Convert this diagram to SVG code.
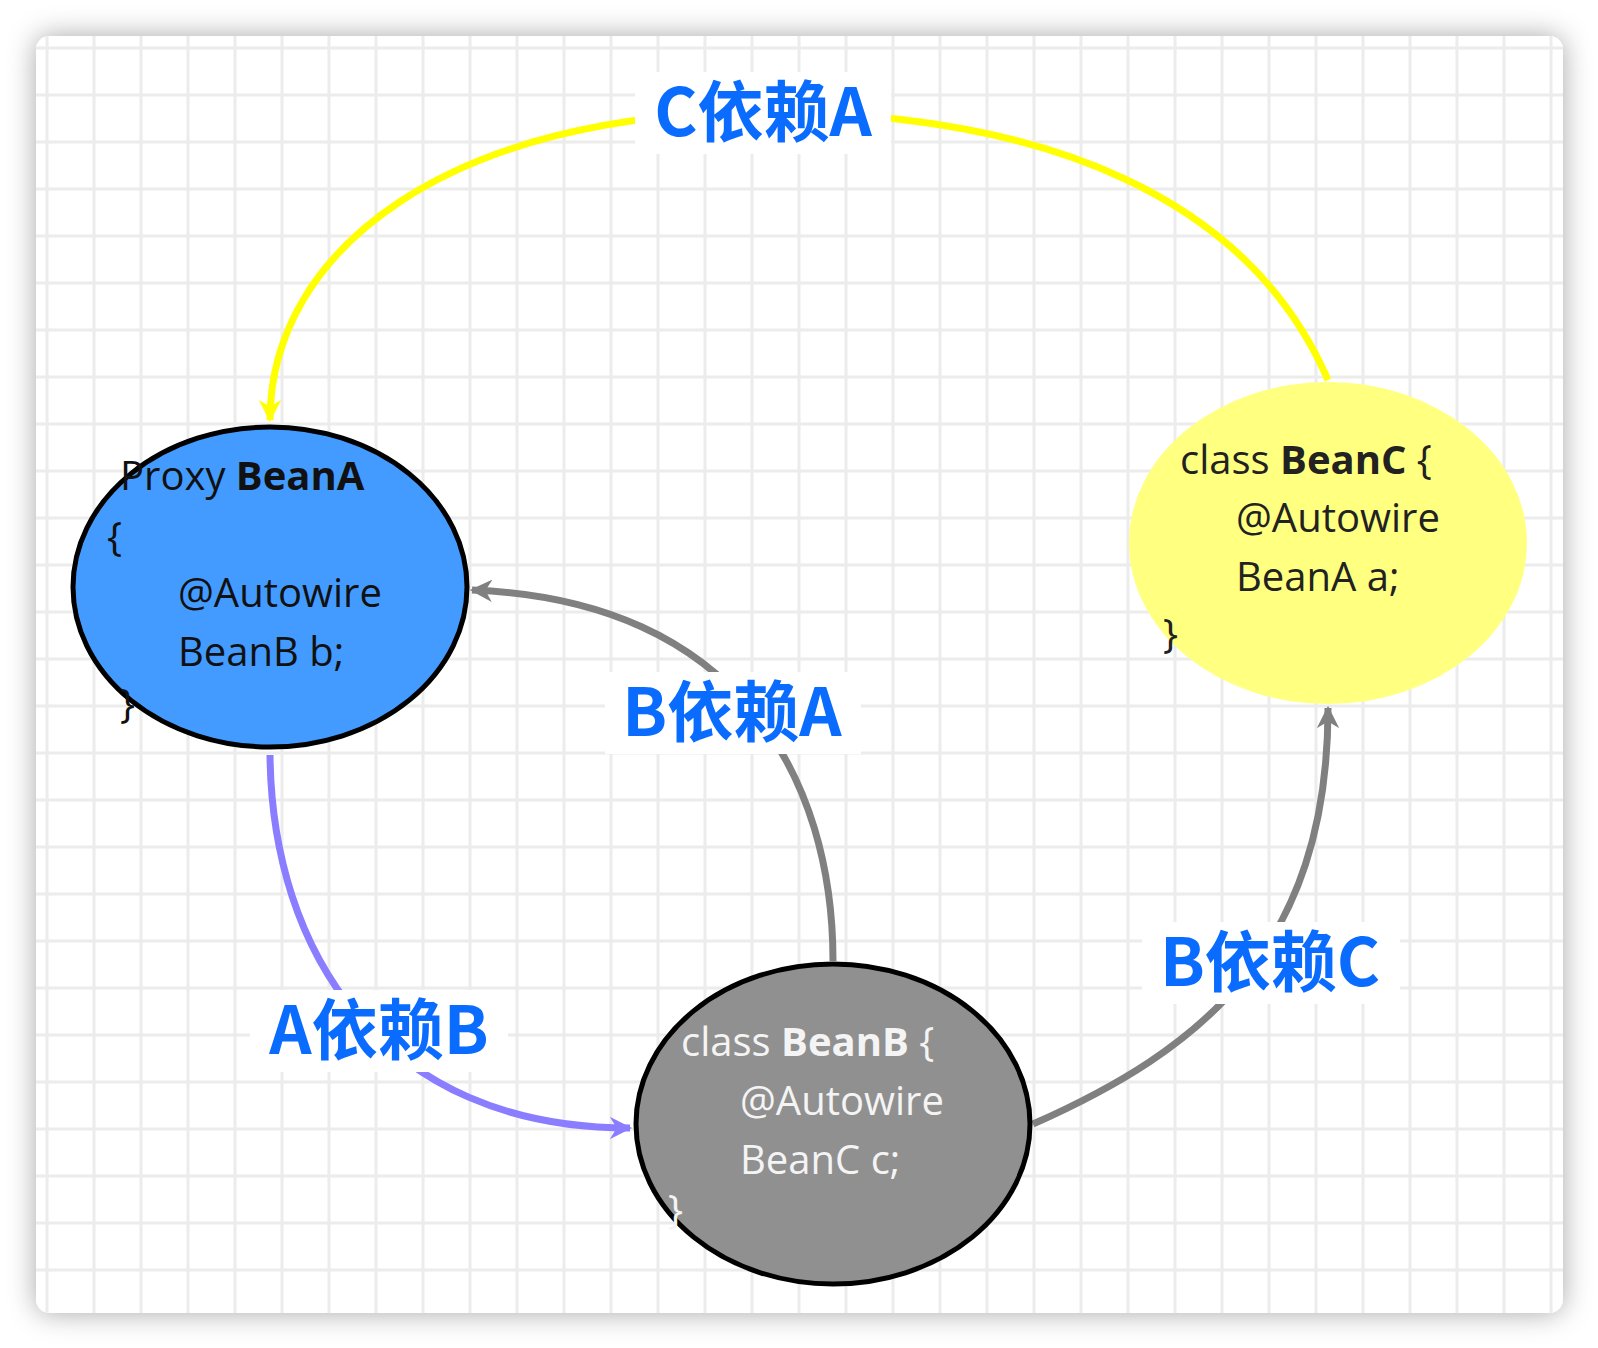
<svg xmlns="http://www.w3.org/2000/svg" width="1598" height="1348" viewBox="0 0 1598 1348">
<defs>
<pattern id="g" x="36" y="36" width="47" height="47" patternUnits="userSpaceOnUse">
<path d="M11,0V47M0,12H47" stroke="#ececec" stroke-width="3" fill="none"/>
</pattern>
<filter id="sh" x="-5%" y="-5%" width="110%" height="110%"><feDropShadow dx="0" dy="0" stdDeviation="14" flood-color="#000" flood-opacity="0.35"/></filter>
<marker id="ay" viewBox="0 0 10 10" refX="9" refY="5" markerWidth="3.2" markerHeight="3.2" orient="auto" markerUnits="strokeWidth"><path d="M0,0L10,5L0,10L3,5z" fill="#ffff00"/></marker>
<marker id="ag" viewBox="0 0 10 10" refX="9" refY="5" markerWidth="3.2" markerHeight="3.2" orient="auto" markerUnits="strokeWidth"><path d="M0,0L10,5L0,10L3,5z" fill="#808080"/></marker>
<marker id="ap" viewBox="0 0 10 10" refX="9" refY="5" markerWidth="3.2" markerHeight="3.2" orient="auto" markerUnits="strokeWidth"><path d="M0,0L10,5L0,10L3,5z" fill="#8a7dff"/></marker>
</defs>
<style>
.t{font-family:"Open Sans","Noto Sans",sans-serif;font-size:40px}
.b{font-weight:bold}
.lbl{font-family:"Noto Sans CJK SC","Noto Sans",sans-serif;font-size:66px;font-weight:bold;fill:#0a6cff;text-anchor:middle}
.e{fill:none;stroke-width:7}
</style>
<rect width="1598" height="1348" fill="#fff"/>
<rect x="36" y="36" width="1527" height="1277" rx="14" fill="#fff" filter="url(#sh)"/>
<rect x="36" y="36" width="1527" height="1277" rx="14" fill="url(#g)"/>
<g id="connectors">
<path class="e" stroke="#ffff00" d="M1328,380 C1250,200 1050,112 763,112 C450,112 270,250 270,420" marker-end="url(#ay)"/>
<path class="e" stroke="#808080" d="M833,961 C833,780 740,600 472,590" marker-end="url(#ag)"/>
<path class="e" stroke="#808080" d="M1033,1124 C1200,1050 1328,950 1328,708" marker-end="url(#ag)"/>
<path class="e" stroke="#8a7dff" d="M270,755 C272,950 380,1128 630,1128" marker-end="url(#ap)"/>
<rect x="635" y="72" width="256" height="82" fill="#fff"/>
<rect x="605" y="672" width="256" height="82" fill="#fff"/>
<rect x="250" y="990" width="258" height="82" fill="#fff"/>
<rect x="1142" y="922" width="258" height="82" fill="#fff"/>
<text class="lbl" x="763" y="136">C依赖A</text>
<text class="lbl" x="732" y="736">B依赖A</text>
<text class="lbl" x="379" y="1054">A依赖B</text>
<text class="lbl" x="1270" y="986">B依赖C</text>
</g>
<g id="nodeA">
<ellipse cx="270" cy="587" rx="197" ry="160" fill="#439bff" stroke="#000" stroke-width="5"/>
<text class="t" fill="#111" x="120" y="490">Proxy <tspan class="b">BeanA</tspan></text>
<text class="t" fill="#111" x="107" y="551">{</text>
<text class="t" fill="#111" x="178" y="607">@Autowire</text>
<text class="t" fill="#111" x="178" y="666">BeanB b;</text>
<text class="t" fill="#111" x="120" y="718">}</text>
</g>
<g id="nodeC">
<ellipse cx="1328" cy="543" rx="199" ry="161" fill="#ffff80"/>
<text class="t" fill="#222" x="1180" y="474">class <tspan class="b">BeanC</tspan> {</text>
<text class="t" fill="#222" x="1236" y="532">@Autowire</text>
<text class="t" fill="#222" x="1236" y="591">BeanA a;</text>
<text class="t" fill="#222" x="1163" y="648">}</text>
</g>
<g id="nodeB">
<ellipse cx="833" cy="1124" rx="197" ry="160" fill="#909090" stroke="#000" stroke-width="5"/>
<text class="t" fill="#f4f4f4" x="681" y="1056">class <tspan class="b">BeanB</tspan> {</text>
<text class="t" fill="#f4f4f4" x="740" y="1115">@Autowire</text>
<text class="t" fill="#f4f4f4" x="740" y="1174">BeanC c;</text>
<text class="t" fill="#f4f4f4" x="668" y="1224">}</text>
</g>
</svg>
